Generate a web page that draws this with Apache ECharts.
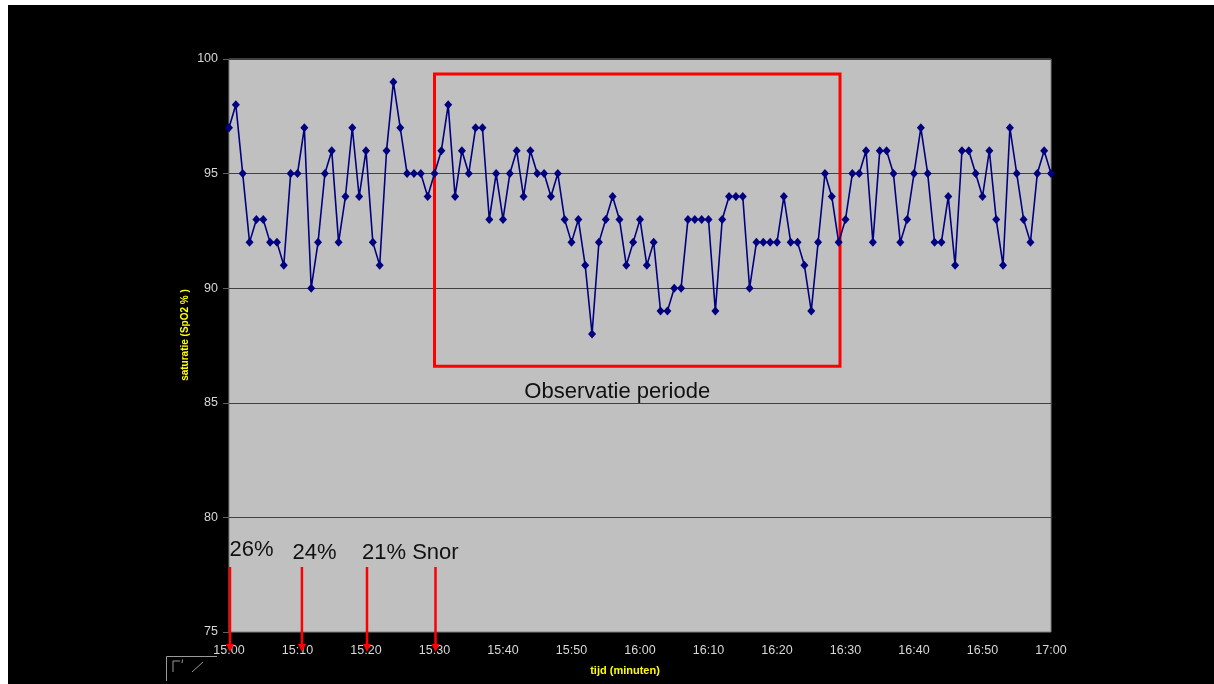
<!DOCTYPE html>
<html>
<head>
<meta charset="utf-8">
<title>Saturatie</title>
<script src="https://cdn.jsdelivr.net/npm/echarts@6/dist/echarts.min.js"></script>
<style>
  html, body { margin: 0; padding: 0; background: #ffffff; overflow: hidden; }
  #chart { position: absolute; left: 8px; top: 5px; width: 1206px; height: 679px; }
</style>
</head>
<body>
<div id="chart"></div>
<script>
// Tick labels along the time axis (one every 10 minutes)
const timeLabels = ['15:00', '15:10', '15:20', '15:30', '15:40', '15:50', '16:00',
                    '16:10', '16:20', '16:30', '16:40', '16:50', '17:00'];

// SpO2 reading per minute, 15:00 .. 17:00
const spo2 = [
  97, 98, 95, 92, 93, 93, 92, 92, 91, 95, 95, 97, 90, 92, 95, 96, 92, 94, 97, 94,
  96, 92, 91, 96, 99, 97, 95, 95, 95, 94,
  95, 96, 98, 94, 96, 95, 97, 97, 93, 95, 93, 95, 96, 94, 96, 95, 95, 94, 95, 93,
  92, 93, 91, 88, 92, 93, 94, 93, 91, 92,
  93, 91, 92, 89, 89, 90, 90, 93, 93, 93, 93, 89, 93, 94, 94, 94, 90, 92, 92, 92,
  92, 94, 92, 92, 91, 89, 92, 95, 94, 92,
  93, 95, 95, 96, 92, 96, 96, 95, 92, 93, 95, 97, 95, 92, 92, 94, 91, 96, 96, 95,
  94, 96, 93, 91, 97, 95, 93, 92, 95, 96, 95
];

// Oxygen settings changes (minute after 15:00) and their labels
const oxygenMinutes = [0, 10.5, 20, 30];
const oxygenLabels = ['26%', '24%', '21% Snor'];

// Observation window (minutes, saturation)
const observation = { fromMin: 30, toMin: 89.2, low: 86.6, high: 99.35, label: 'Observatie periode' };

const FONT = '"Liberation Sans", Arial, sans-serif';

const chart = echarts.init(document.getElementById('chart'), null, { renderer: 'canvas' });

const option = {
  backgroundColor: '#000000',
  animation: false,
  grid: {
    left: 221, top: 54, width: 822, height: 573,
    show: true,
    backgroundColor: '#c0c0c0',
    borderColor: '#808080',
    borderWidth: 1
  },
  xAxis: {
    type: 'value',
    min: 0, max: 120, interval: 10,
    axisLine: { show: false },
    axisTick: { show: false },
    splitLine: { show: false },
    axisLabel: {
      color: '#d8d8d8', fontFamily: FONT, fontSize: 12.5, margin: 12,
      formatter: v => timeLabels[Math.round(v / 10)]
    }
  },
  yAxis: {
    type: 'value',
    min: 75, max: 100, interval: 5,
    axisLine: { show: false },
    axisTick: { show: true, length: 6, lineStyle: { color: '#606060' } },
    splitLine: { show: true, lineStyle: { color: '#404040', width: 1 } },
    axisLabel: { color: '#d8d8d8', fontFamily: FONT, fontSize: 12.5, margin: 11 }
  },
  series: [{
    type: 'line',
    data: spo2.map((v, i) => [i, v]),
    symbol: 'diamond',
    symbolSize: [8, 9],
    lineStyle: { color: '#000080', width: 1.6 },
    itemStyle: { color: '#000080' },
    z: 3,
    markArea: {
      silent: true,
      itemStyle: { color: 'rgba(0,0,0,0)', borderColor: '#ff0000', borderWidth: 3 },
      data: [[
        { coord: [observation.fromMin, observation.high] },
        { coord: [observation.toMin, observation.low] }
      ]]
    }
  }]
};
chart.setOption(option);

// Annotations: oxygen-setting arrows, their labels, the window caption and the corner icon
const arrowTop = 562, arrowTip = 647;
const graphics = [];
oxygenMinutes.forEach(m => {
  const x = chart.convertToPixel({ xAxisIndex: 0, yAxisIndex: 0 }, [m, 75])[0] + 1;
  graphics.push({
    type: 'line', z: 10,
    shape: { x1: x, y1: arrowTop, x2: x, y2: arrowTip - 6 },
    style: { stroke: '#ff0000', lineWidth: 2.5 }
  });
  graphics.push({
    type: 'polygon', z: 10,
    shape: { points: [[x - 4, arrowTip - 8], [x + 4, arrowTip - 8], [x, arrowTip]] },
    style: { fill: '#ff0000' }
  });
});

const labelPos = [[221.5, 545], [284.5, 548], [354, 548]];
oxygenLabels.forEach((t, i) => {
  graphics.push({
    type: 'text', z: 10,
    x: labelPos[i][0], y: labelPos[i][1],
    style: { text: t, fill: '#111111', font: '22px ' + FONT, textAlign: 'left', textVerticalAlign: 'middle' }
  });
});

const capX = chart.convertToPixel({ xAxisIndex: 0, yAxisIndex: 0 }, [(observation.fromMin + observation.toMin) / 2, 75])[0];
graphics.push({
  type: 'text', z: 10,
  x: capX - 20, y: 387,
  style: { text: observation.label, fill: '#111111', font: '22px ' + FONT, textAlign: 'center', textVerticalAlign: 'middle' }
});

// Axis titles
graphics.push({
  type: 'text', z: 10, x: 177, y: 330, rotation: Math.PI / 2,
  style: { text: 'saturatie (SpO2 % )', fill: '#ffff00', font: 'bold 10px ' + FONT, textAlign: 'center', textVerticalAlign: 'middle' }
});
graphics.push({
  type: 'text', z: 10, x: 617, y: 666,
  style: { text: 'tijd (minuten)', fill: '#ffff00', font: 'bold 11px ' + FONT, textAlign: 'center', textVerticalAlign: 'middle' }
});

// Small pen-tool icon in the lower left corner
graphics.push({
  type: 'polyline', z: 10,
  shape: { points: [[158.5, 676], [158.5, 651.5], [209, 651.5]] },
  style: { stroke: '#9a9a9a', lineWidth: 1, fill: null }
});
graphics.push({
  type: 'polyline', z: 10,
  shape: { points: [[165, 667], [165, 656], [172, 656]] },
  style: { stroke: '#9a9a9a', lineWidth: 1, fill: null }
});
graphics.push({
  type: 'line', z: 10,
  shape: { x1: 174.5, y1: 654.5, x2: 174, y2: 658 },
  style: { stroke: '#9a9a9a', lineWidth: 1 }
});
graphics.push({
  type: 'line', z: 10,
  shape: { x1: 184, y1: 667, x2: 195, y2: 657 },
  style: { stroke: '#9a9a9a', lineWidth: 1 }
});

chart.setOption({ graphic: { elements: graphics } });
</script>
</body>
</html>
